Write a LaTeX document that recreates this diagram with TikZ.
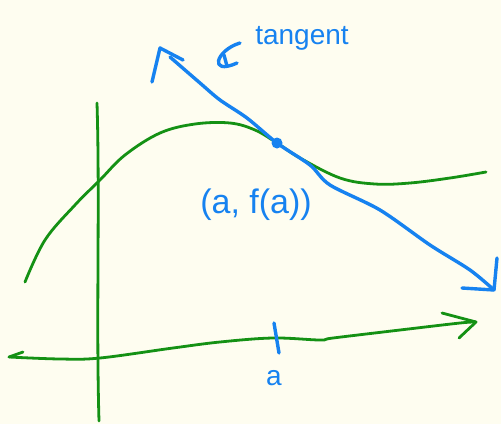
\documentclass[tikz,border=0pt]{standalone}
\usepackage{fontspec}
\setmainfont{Liberation Sans}
\definecolor{paper}{RGB}{254,253,240}
\definecolor{pen}{RGB}{20,145,20}
\definecolor{ink}{RGB}{22,130,240}
\begin{document}
\begin{tikzpicture}[x=1pt,y=-1pt,
  greenstroke/.style={draw=pen,line width=2.8pt,line cap=round,line join=round},
  bluestroke/.style={draw=ink,line width=3.4pt,line cap=round,line join=round},
  hand/.style={text=ink,inner sep=0pt,font=\fontsize{28}{30}\selectfont}]
\fill[paper] (0,0) rectangle (501,424);
\useasboundingbox (0,0) rectangle (501,424);
% coordinates
\coordinate (yt) at (97,103);
\coordinate (yb) at (99,421);
\coordinate (xl) at (9,357);
\coordinate (xr) at (476,322);
\coordinate (ta) at (274,323);
\coordinate (tb) at (279,353);
\coordinate (P) at (277,143);
\coordinate (L1) at (160,48);
\coordinate (L2) at (494,290);
% axes
\draw[greenstroke] (yt) .. controls (100,200) and (96,320) .. (yb);
\draw[greenstroke] plot[smooth,tension=0.6] coordinates {(xl) (60,359) (100,358) (173,348) (220,342) (273,338) (320,340) (333,338) (400,330) (460,323) (xr)};
\draw[greenstroke] (xl) -- (23,352);
\draw[greenstroke] (442,313) -- (xr) -- (459,338);
% function curve
\draw[greenstroke] plot[smooth,tension=0.6] coordinates {(25,282) (45,240) (75,205) (100,180) (125,155) (160,133) (195,124) (230,123) (255,130) (P) (300,158) (340,178) (375,184) (410,183) (450,178) (486,172)};
% tangent line
\draw[bluestroke] plot[smooth,tension=0.5] coordinates {(170,57) (200,83) (220,100) (247,118) (P) (310,165) (330,185) (380,210) (430,245) (470,270) (L2)};
\draw[bluestroke] (152,82) -- (L1) -- (183,60);
\draw[bluestroke] (497,258) -- (L2) -- (462,288);
% point
\fill[ink] (P) circle (5.5);
% tick
\draw[bluestroke] (ta) -- (tb);
% labels
\node[hand] (tang) at (302,38) {tangent};
\draw[bluestroke] (240,43) .. controls (216,50) and (208,76) .. (237,63);
\draw[bluestroke] (224,55) -- (227,66);
\node[hand,font=\fontsize{34}{36}\selectfont] (pt) at (256,205) {(a, f(a))};
\node[hand] (alab) at (274,378) {a};
\end{tikzpicture}
\end{document}
